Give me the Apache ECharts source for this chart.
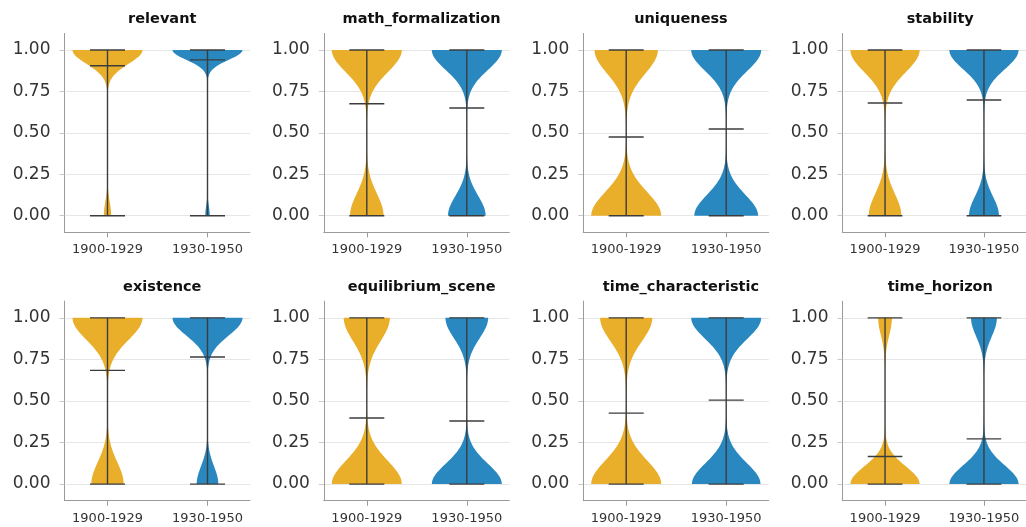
<!DOCTYPE html>
<html>
<head>
<meta charset="utf-8">
<script src="https://cdn.jsdelivr.net/npm/echarts@6/dist/echarts.min.js"></script>
<style>
html,body{margin:0;padding:0;background:#fff;}
#chart{width:1026px;height:527px;}
</style>
</head>
<body>
<div id="chart"></div>
<script>
// ---- data ----
const categories = ['relevant','math_formalization','uniqueness','stability','existence','equilibrium_scene','time_characteristic','time_horizon'];
const periods = ['1900-1929','1930-1950'];
// share of items scored 1 (the drawn mean) per category
const mean1900 = [0.905, 0.676, 0.475, 0.680, 0.684, 0.397, 0.427, 0.166];
const mean1930 = [0.940, 0.650, 0.523, 0.698, 0.764, 0.379, 0.505, 0.272];
// estimated number of observations per period (sets KDE bandwidth, Scott's rule)
const sampleSize = [550, 1000];
const yTicks = [0, 0.25, 0.5, 0.75, 1];
const periodPos = [0, 1];

const colors = ['#E9AE2A', '#2A88C0'];
const lineColor = '#3c3c3c';
const FONT = 'DejaVu Sans';

// KDE of a 0/1 sample with fraction p of ones, n observations, on [0,1]
function violinProfile(p, n) {
  const varr = p * (1 - p) * n / (n - 1);
  const s = Math.pow(n, -0.2) * Math.sqrt(varr);
  const ys = [], ds = [];
  for (let i = 0; i < 100; i++) {
    const y = i / 99;
    const d = p * Math.exp(-0.5 * Math.pow((y - 1) / s, 2)) + (1 - p) * Math.exp(-0.5 * Math.pow(y / s, 2));
    ys.push(y); ds.push(d);
  }
  const m = Math.max(...ds);
  return ys.map((y, i) => [y, ds[i] / m]);
}

const WIDTH = 0.7;
const colLeft = [64.5, 323.8, 583.2, 842.5];
const gridW = 185.5;
const rowTop = [33.4, 301.2];
const gridH = [198.9, 199.5];

const grids = [], xAxes = [], yAxes = [], series = [], titles = [];
categories.forEach((cat, k) => {
  const r = Math.floor(k / 4), c = k % 4;
  grids.push({left: colLeft[c], top: rowTop[r], width: gridW, height: gridH[r]});
  titles.push({
    text: cat, left: colLeft[c] + gridW / 2, top: rowTop[r] - 26.5, textAlign: 'center',
    textStyle: {fontFamily: FONT, fontWeight: 'bold', fontSize: 14.5, color: '#111'}
  });
  xAxes.push({
    type: 'value', gridIndex: k, min: -0.43, max: 1.425,
    axisLine: {show: true, onZero: false, lineStyle: {color: '#9a9a9a', width: 1}},
    axisTick: {show: true, length: 5, lineStyle: {color: '#9a9a9a'}, customValues: periodPos},
    axisLabel: {customValues: periodPos, formatter: v => periods[Math.round(v)] || '', fontFamily: FONT, fontSize: 13, color: '#333', margin: 11},
    splitLine: {show: false}
  });
  yAxes.push({
    type: 'value', gridIndex: k, min: -0.1, max: 1.1,
    axisLine: {show: true, onZero: false, lineStyle: {color: '#9a9a9a', width: 1}},
    axisTick: {show: true, length: 5, lineStyle: {color: '#c8c8c8'}, customValues: yTicks},
    axisLabel: {customValues: yTicks, formatter: v => v.toFixed(2), fontFamily: FONT, fontSize: 17, color: '#333', margin: 14},
    splitLine: {show: true, lineStyle: {color: '#e6e6e6', width: 1}}
  });
  const means = [mean1900[k], mean1930[k]];
  // bodies
  series.push({
    type: 'custom', xAxisIndex: k, yAxisIndex: k, z: 2, silent: true,
    data: periodPos.map((x, i) => [x, means[i], i]),
    renderItem: function (params, api) {
      const x = api.value(0), p = api.value(1), i = api.value(2);
      const prof = violinProfile(p, sampleSize[i]);
      const pts = [];
      prof.forEach(([y, w]) => pts.push(api.coord([x + w * WIDTH / 2, y])));
      for (let j = prof.length - 1; j >= 0; j--) pts.push(api.coord([x - prof[j][1] * WIDTH / 2, prof[j][0]]));
      return {type: 'polygon', shape: {points: pts}, style: {fill: colors[i], stroke: null}};
    }
  });
  // bars, caps, means
  series.push({
    type: 'custom', xAxisIndex: k, yAxisIndex: k, z: 3, silent: true,
    data: periodPos.map((x, i) => [x, means[i], i]),
    renderItem: function (params, api) {
      const x = api.value(0), p = api.value(1);
      const cw = WIDTH / 4;
      const seg = (x1, y1, x2, y2) => {
        const a = api.coord([x1, y1]), b = api.coord([x2, y2]);
        return {type: 'line', shape: {x1: a[0], y1: a[1], x2: b[0], y2: b[1]}, style: {stroke: lineColor, lineWidth: 1.4}};
      };
      return {type: 'group', children: [
        seg(x, 0, x, 1),
        seg(x - cw, 0, x + cw, 0),
        seg(x - cw, 1, x + cw, 1),
        seg(x - cw, p, x + cw, p)
      ]};
    }
  });
});

const chart = echarts.init(document.getElementById('chart'), null, {renderer: 'canvas'});
chart.setOption({
  animation: false,
  backgroundColor: '#fff',
  title: titles,
  grid: grids,
  xAxis: xAxes,
  yAxis: yAxes,
  series: series
});
</script>
</body>
</html>
